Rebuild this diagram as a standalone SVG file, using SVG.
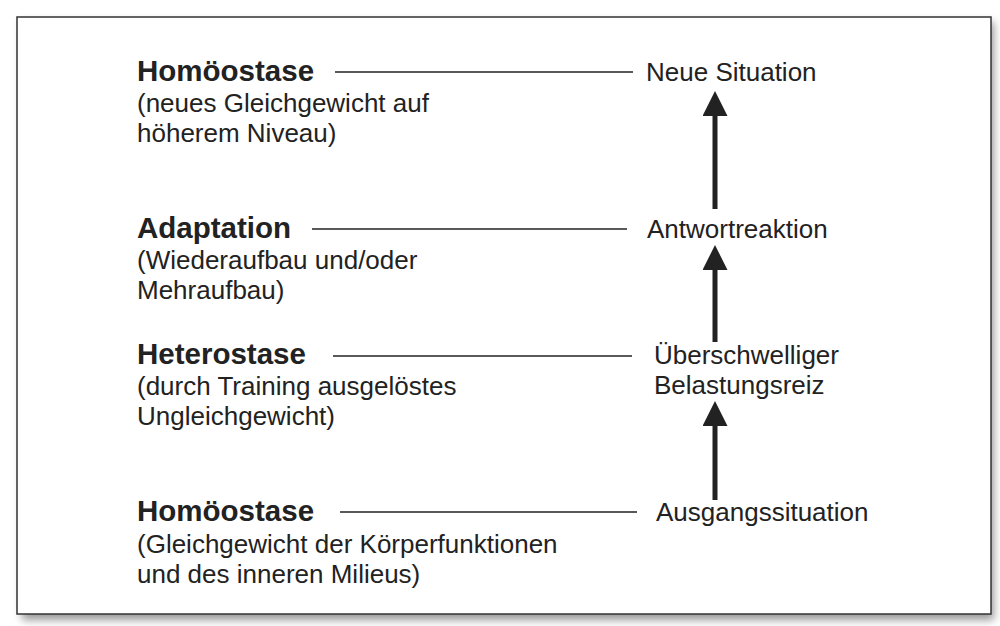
<svg xmlns="http://www.w3.org/2000/svg" width="1000" height="626" viewBox="0 0 1000 626">
<defs>
<filter id="sh" x="-5%" y="-5%" width="110%" height="115%"><feGaussianBlur stdDeviation="4"/></filter>
<marker id="ah" markerWidth="5" markerHeight="5" refX="0" refY="2.5" orient="auto" markerUnits="strokeWidth"><path d="M0,0 L5,2.5 L0,5 Z" fill="#222"/></marker>
</defs>
<style>
text{font-family:"Liberation Sans",Arial,sans-serif;fill:#222}
.t{font-size:29.5px;font-weight:bold}
.d{font-size:26px}
.l{stroke:#222;stroke-width:1.3}
.a{stroke:#222;stroke-width:5;fill:none}
</style>
<rect width="1000" height="626" fill="#fff"/>
<rect x="22" y="22" width="972" height="598" fill="#999" filter="url(#sh)"/>
<rect x="17" y="17" width="974" height="597" fill="#fff" stroke="#333" stroke-width="1.5"/>
<g id="n1"><text class="t" x="137" y="81">Homöostase</text><text class="d" x="137" y="112">(neues Gleichgewicht auf</text><text class="d" x="137" y="142">höherem Niveau)</text></g>
<g id="n2"><text class="t" x="137" y="238">Adaptation</text><text class="d" x="137" y="269">(Wiederaufbau und/oder</text><text class="d" x="137" y="299">Mehraufbau)</text></g>
<g id="n3"><text class="t" x="137" y="364">Heterostase</text><text class="d" x="137" y="395">(durch Training ausgelöstes</text><text class="d" x="137" y="425">Ungleichgewicht)</text></g>
<g id="n4"><text class="t" x="137" y="521">Homöostase</text><text class="d" x="137" y="553">(Gleichgewicht der Körperfunktionen</text><text class="d" x="137" y="583">und des inneren Milieus)</text></g>
<g id="r1"><text class="d" x="646" y="81">Neue Situation</text></g>
<g id="r2"><text class="d" x="647" y="238">Antwortreaktion</text></g>
<g id="r3"><text class="d" x="654" y="364">Überschwelliger</text><text class="d" x="654" y="394">Belastungsreiz</text></g>
<g id="r4"><text class="d" x="656" y="521">Ausgangssituation</text></g>
<g id="connectors">
<line class="l" x1="335" y1="72" x2="633" y2="72"/>
<line class="l" x1="312" y1="229" x2="627" y2="229"/>
<line class="l" x1="333" y1="356" x2="632" y2="356"/>
<line class="l" x1="340" y1="512" x2="637" y2="512"/>
<line class="a" x1="715" y1="209" x2="715" y2="116" marker-end="url(#ah)"/>
<line class="a" x1="715" y1="342" x2="715" y2="270" marker-end="url(#ah)"/>
<line class="a" x1="715" y1="500" x2="715" y2="426" marker-end="url(#ah)"/>
</g>
</svg>
